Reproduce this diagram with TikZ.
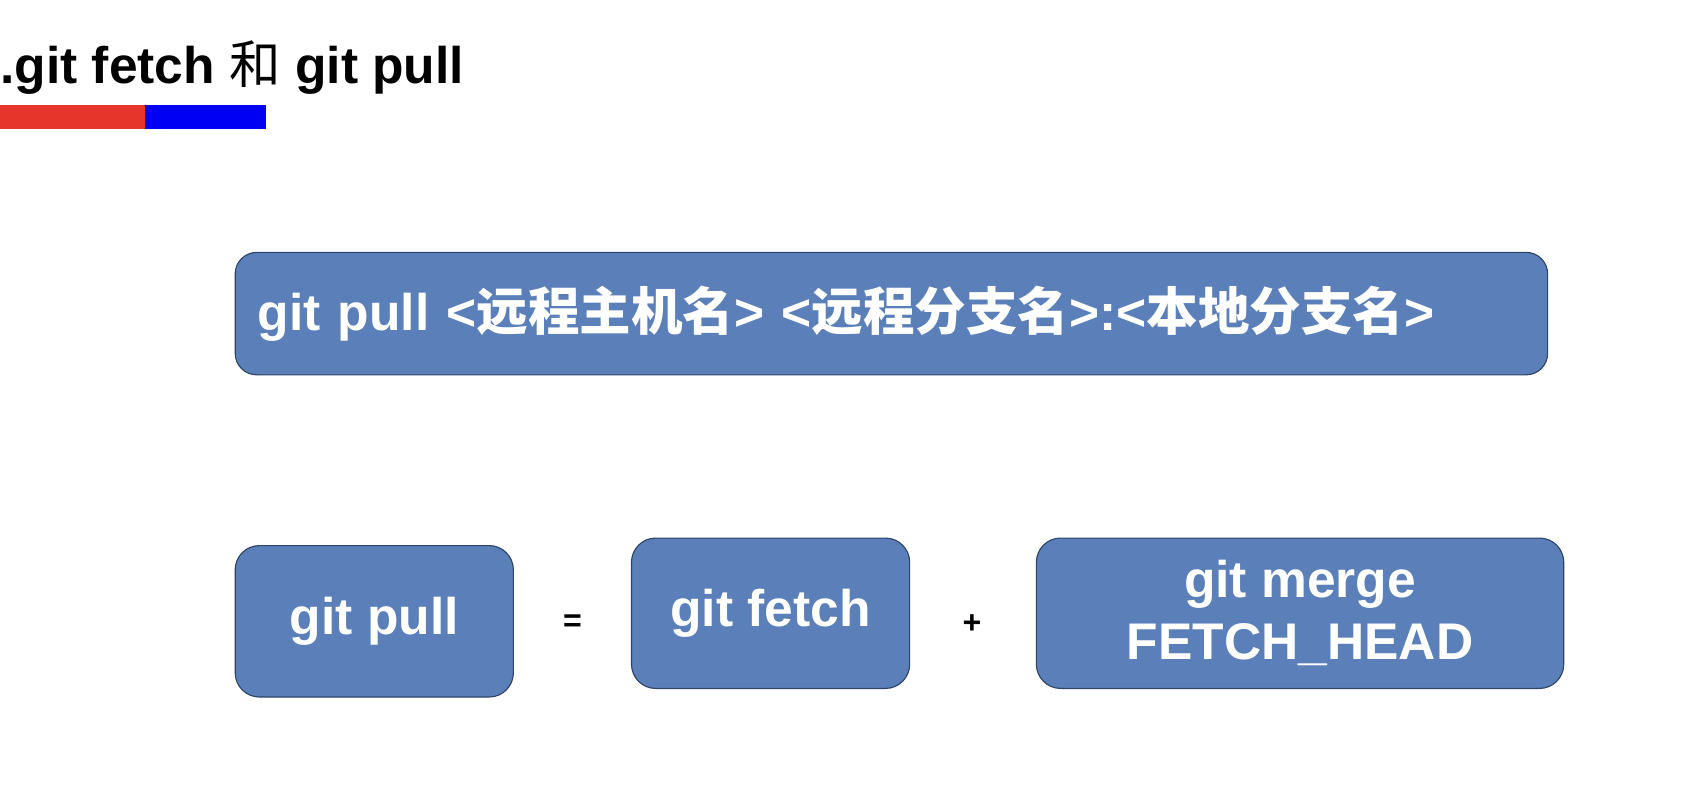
\documentclass[tikz,border=0pt]{standalone}
\usepackage{fontspec}
\setmainfont{Liberation Sans}
\newfontfamily\cjk{Noto Sans CJK SC}
\newcommand{\zh}[1]{{\cjk #1}}
\definecolor{boxblue}{HTML}{5B80B9}
\definecolor{boxline}{HTML}{2E4466}
\definecolor{barred}{HTML}{E6352B}
\definecolor{barblue}{HTML}{0000F5}

\begin{document}
\begin{tikzpicture}[
        cmdbox/.style={draw=boxline,line width=0.6pt,fill=boxblue,rounded corners=0.45cm,text=white,
            font=\fontsize{27.3}{33}\selectfont\bfseries,align=center,inner sep=0pt},
        opsign/.style={font=\fontsize{17}{20}\selectfont\bfseries,inner sep=0pt}
    ]
    \useasboundingbox (0,0) rectangle (31.36,-14.66);
    \node[anchor=base west,inner sep=0pt,font=\fontsize{27.3}{33}\selectfont\bfseries] (title) at (0,-1.56) {.git fetch \zh{\mdseries 和} git pull};
    \fill[barred] (0,-1.96) rectangle (2.70,-2.40);
    \fill[barblue] (2.70,-1.96) rectangle (4.96,-2.40);
    \node[cmdbox,rounded corners=0.4cm,minimum height=2.28cm,text width=23.60cm,inner xsep=0.42cm,align=left] (syntax) at (16.60,-5.84)
        {\raisebox{-0.06cm}{git pull <\zh{远程主机名}> <\zh{远程分支名}>:<\zh{本地分支名}>}};
    \node[cmdbox,minimum width=5.18cm,minimum height=2.82cm] (pull) at (6.97,-11.57) {git pull};
    \node[opsign] (eq) at (10.66,-11.60) {=};
    \node[cmdbox,minimum width=5.18cm,minimum height=2.80cm] (fetch) at (14.35,-11.42) {git fetch};
    \node[opsign] (plus) at (18.10,-11.62) {+};
    \node[cmdbox,minimum width=9.82cm,minimum height=2.80cm] (merge) at (24.21,-11.42) {git merge\\FETCH\_HEAD};
\end{tikzpicture}
\end{document}
